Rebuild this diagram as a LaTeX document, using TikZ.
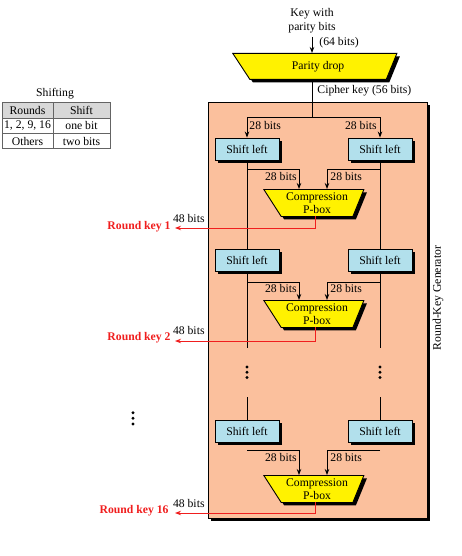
\documentclass[tikz,border=0pt]{standalone}
\usepackage{fontspec}
\setmainfont{Liberation Serif}
\usetikzlibrary{arrows.meta,shapes.geometric,shadows}
\definecolor{peach}{RGB}{251,192,157}
\definecolor{shiftblue}{RGB}{178,224,236}
\definecolor{keyred}{RGB}{240,30,30}
\definecolor{tabline}{RGB}{100,100,100}
\definecolor{tabhead}{RGB}{216,216,216}
\begin{document}
\begin{tikzpicture}[x=1pt,y=-1pt,
  font=\fontsize{11.7}{14}\selectfont,
  line width=0.9pt,
  >={Stealth[length=6pt,width=4.5pt]},
  blackshadow/.style={drop shadow={shadow xshift=3pt,shadow yshift=-3pt,opacity=1,fill=black}},
  shiftbox/.style={draw,fill=shiftblue,minimum width=64pt,minimum height=22pt,inner sep=0pt,blackshadow},
  pbox/.style={trapezium,trapezium stretches=true,trapezium left angle=125,trapezium right angle=114,
    minimum width=101pt,minimum height=27pt,inner sep=0pt,draw,fill=yellow,align=center,
    font=\fontsize{11.7}{13.5}\selectfont,blackshadow,anchor=top left corner},
  lbl/.style={inner sep=0pt},
  keylbl/.style={inner sep=0pt,anchor=east,text=keyred,font=\fontsize{11.7}{14}\selectfont\bfseries},
  keyline/.style={draw=keyred,->},
  cell/.style={draw=tabline,line width=1pt,inner sep=0pt,minimum height=15.3pt},
  dot/.style={circle,fill=black,inner sep=0pt,minimum size=3.2pt}
]
\useasboundingbox (0,0) rectangle (462,556);

% ---- shifting schedule table ----
\node[lbl] (tabtitle) at (55,94) {Shifting};
\node[cell,fill=tabhead,minimum width=51pt] (h1) at (27.5,110.65) {Rounds};
\node[cell,fill=tabhead,minimum width=57pt] (h2) at (81.5,110.65) {Shift};
\node[cell,minimum width=51pt] (r11) at (27.5,125.95) {1, 2, 9, 16};
\node[cell,minimum width=57pt] (r12) at (81.5,125.95) {one bit};
\node[cell,minimum width=51pt] (r21) at (27.5,141.25) {Others};
\node[cell,minimum width=57pt] (r22) at (81.5,141.25) {two bits};

% ---- round-key generator frame ----
\node[draw,fill=peach,line width=0.8pt,minimum width=219pt,minimum height=416pt,blackshadow] (gen) at (317.5,310) {};
\node[lbl,rotate=90] (genlbl) at (438,298) {Round-Key Generator};

% ---- input and parity drop ----
\node[lbl,align=center] (keyin) at (312,21) {Key with\\parity bits};
\node[trapezium,trapezium stretches=true,trapezium left angle=121.6,trapezium right angle=111,
  minimum width=165pt,minimum height=26pt,inner sep=0pt,draw,fill=yellow,blackshadow,
  anchor=top left corner] (pd) at (232,53) {Parity drop};
\coordinate (split) at (312,117);
\draw[->] (312,37) -- (split |- pd.top side);
\node[lbl,anchor=west] (b64) at (319,43) {(64 bits)};
\draw (split |- pd.bottom side) -- (split);
\node[lbl,anchor=west] (ck) at (317,91) {Cipher key (56 bits)};

% ---- shift boxes ----
\node[shiftbox] (s1L) at (247,149) {Shift left};
\node[shiftbox] (s1R) at (380,149) {Shift left};
\node[shiftbox] (s2L) at (247,260) {Shift left};
\node[shiftbox] (s2R) at (380,260) {Shift left};
\node[shiftbox] (s3L) at (247,431) {Shift left};
\node[shiftbox] (s3R) at (380,431) {Shift left};

% ---- compression boxes ----
\node[pbox] (p1) at (263,189) {Compression\\P-box};
\node[pbox] (p2) at (263,300) {Compression\\P-box};
\node[pbox] (p3) at (263,475) {Compression\\P-box};

% ---- key split into halves ----
\draw[->] (split) -| (s1L.north);
\draw[->] (split) -| (s1R.north);
\node[lbl,anchor=west] (t1L) at (249,125) {28 bits};
\node[lbl,anchor=east] (t1R) at (377,125) {28 bits};

% ---- vertical data paths ----
\draw (s1L.south) -- (s2L.north);
\draw (s1R.south) -- (s2R.north);
\coordinate (e2L) at (247,348);
\coordinate (e2R) at (380,348);
\draw (s2L.south) -- (e2L);
\draw (s2R.south) -- (e2R);
\coordinate (b3L) at (247,397);
\coordinate (b3R) at (380,397);
\draw (b3L) -- (s3L.north);
\draw (b3R) -- (s3R.north);
\node[dot] (dl1) at (247,367) {};
\node[dot] (dl2) at (247,372.3) {};
\node[dot] (dl3) at (247,377.5) {};
\node[dot] (dr1) at (380,367) {};
\node[dot] (dr2) at (380,372.3) {};
\node[dot] (dr3) at (380,377.5) {};
\node[dot] (dk1) at (133,412.7) {};
\node[dot] (dk2) at (133,418.3) {};
\node[dot] (dk3) at (133,424) {};

% ---- branches into compression boxes ----
\draw[->] (247,169) -- (299,169) -- (299,189);
\draw[->] (380,169) -- (327,169) -- (327,189);
\node[lbl,anchor=east] (u1L) at (297,176.5) {28 bits};
\node[lbl,anchor=west] (u1R) at (330,176.5) {28 bits};

\draw[->] (247,282) -- (299,282) -- (299,300);
\draw[->] (380,282) -- (327,282) -- (327,300);
\node[lbl,anchor=east] (u2L) at (297,288.5) {28 bits};
\node[lbl,anchor=west] (u2R) at (330,288.5) {28 bits};

\draw[->] (247,450) -- (299,450) -- (299,475);
\draw[->] (380,450) -- (327,450) -- (327,475);
\node[lbl,anchor=east] (u3L) at (297,457.5) {28 bits};
\node[lbl,anchor=west] (u3R) at (330,457.5) {28 bits};

% ---- round key outputs ----
\coordinate (k1) at (175,228);
\coordinate (k2) at (175,341);
\coordinate (k3) at (175,513);
\draw[keyline] (315,216) |- (k1);
\draw[keyline] (315,327) |- (k2);
\draw[keyline] (315,502) |- (k3);
\node[keylbl] (rk1) at (171,227) {Round key 1};
\node[keylbl] (rk2) at (171,338) {Round key 2};
\node[keylbl] (rk3) at (169,511) {Round key 16};
\node[lbl,anchor=east] (w1) at (205,218) {48 bits};
\node[lbl,anchor=east] (w2) at (205,330) {48 bits};
\node[lbl,anchor=east] (w3) at (205,503) {48 bits};
\end{tikzpicture}
\end{document}
